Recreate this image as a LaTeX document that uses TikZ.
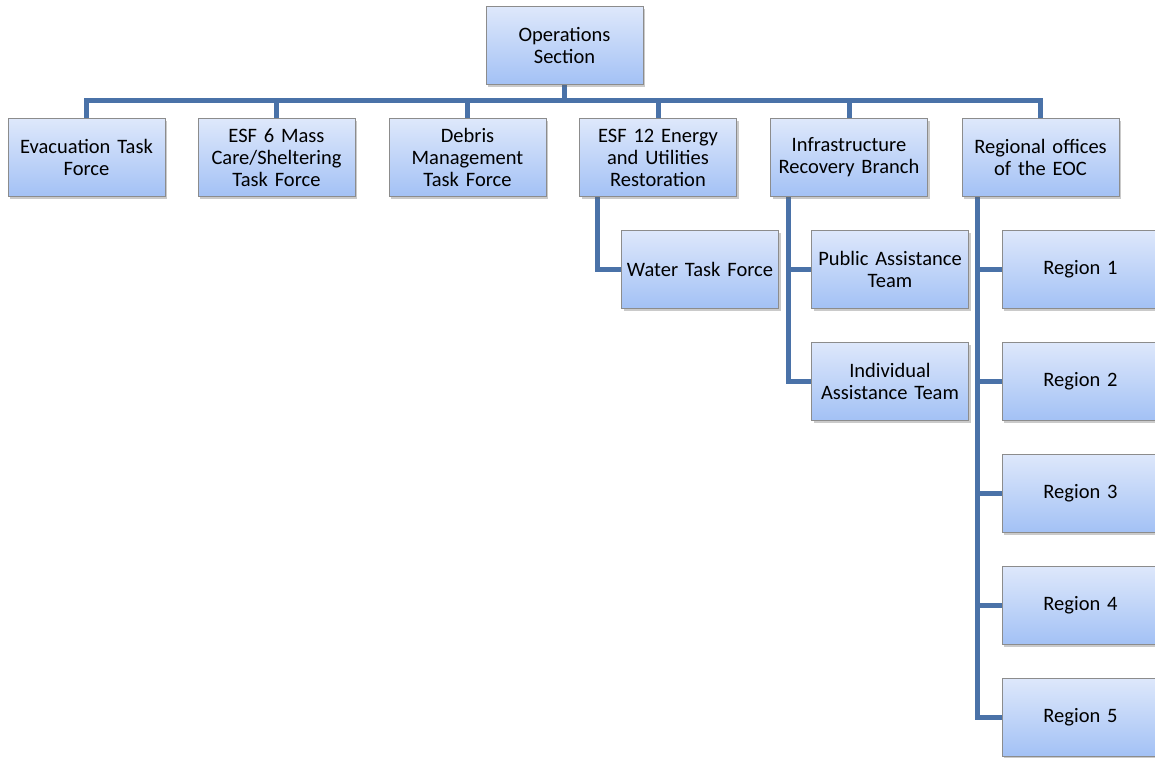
\documentclass[tikz,border=0pt]{standalone}
\usepackage{fontspec}
\setmainfont{Carlito}
\usetikzlibrary{shadows,calc,backgrounds}
\definecolor{linec}{RGB}{74,114,168}
\definecolor{boxtop}{RGB}{222,232,251}
\definecolor{boxbot}{RGB}{163,193,245}
\definecolor{boxdraw}{RGB}{140,140,140}
\tikzset{
  orgbox/.style={rectangle, draw=boxdraw, line width=0.8pt, top color=boxtop, bottom color=boxbot,
    minimum width=157pt, minimum height=78pt, text width=155pt, align=center, inner sep=1pt,
    font=\fontsize{20.5}{22}\selectfont,
    drop shadow={shadow xshift=2pt, shadow yshift=-2.5pt, opacity=0.35, fill=black!60}},
  conn/.style={draw=linec, line width=5pt}
}
\begin{document}
\begin{tikzpicture}[x=1pt,y=-1pt]
\useasboundingbox (0,0) rectangle (1155,757);
\clip (0,0) rectangle (1155,757);
\node[orgbox] (ops) at (564.5,45.5) {Operations\\Section};
\node[orgbox] (evac) at (86.5,157.5) {Evacuation Task\\Force};
\node[orgbox] (esf6) at (276.5,157.5) {ESF 6 Mass\\Care/Sheltering\\Task Force};
\node[orgbox] (debris) at (467.5,157.5) {Debris\\Management\\Task Force};
\node[orgbox] (esf12) at (658,157.5) {ESF 12 Energy\\and Utilities\\Restoration};
\node[orgbox] (infra) at (849,157.5) {Infrastructure\\Recovery Branch};
\node[orgbox] (reg) at (1040.5,157.5) {Regional offices\\of the EOC};
\node[orgbox] (water) at (700,269) {Water Task Force};
\node[orgbox] (pub) at (890,269) {Public Assistance\\Team};
\node[orgbox] (ind) at (890,381) {Individual\\Assistance Team};
\node[orgbox] (r1) at (1080.5,269) {Region 1};
\node[orgbox] (r2) at (1080.5,381) {Region 2};
\node[orgbox] (r3) at (1080.5,493) {Region 3};
\node[orgbox] (r4) at (1080.5,605) {Region 4};
\node[orgbox] (r5) at (1080.5,717) {Region 5};
\begin{scope}[on background layer]
\coordinate (bar) at (564.5,101);
\foreach \c in {evac,esf6,debris,esf12,infra,reg}
  \draw[conn] (ops.south) -- (bar) -| (\c.north);
\coordinate (w0) at ($(esf12.south west)+(18,0)$);
\coordinate (i0) at ($(infra.south west)+(18,0)$);
\coordinate (g0) at ($(reg.south west)+(16,0)$);
\draw[conn] (w0) |- (water.west);
\draw[conn] (i0) |- (pub.west);
\draw[conn] (i0) |- (ind.west);
\foreach \c in {r1,r2,r3,r4,r5}
  \draw[conn] (g0) |- (\c.west);
\end{scope}
\end{tikzpicture}
\end{document}
